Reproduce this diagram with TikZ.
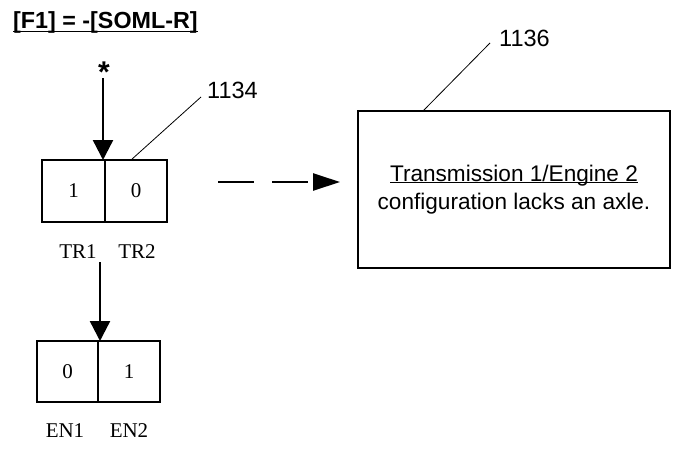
\documentclass[tikz,border=0pt]{standalone}
\usepackage{fontspec}
\setmainfont{Liberation Serif}
\setsansfont{Liberation Sans}
\usetikzlibrary{arrows.meta}
\newcommand\ulbox[2]{\setbox0\hbox{#2}\rlap{\rule[-#1]{\wd0}{1.3pt}}\box0}
\begin{document}
\begin{tikzpicture}[x=1pt,y=-1pt,
  cell/.style={draw,line width=1.8pt,inner sep=0pt,outer sep=0pt,minimum height=62pt,
    font=\fontsize{21}{24}\selectfont},
  sublbl/.style={font=\fontsize{21}{24}\selectfont,inner sep=0pt},
  reflbl/.style={font=\sffamily\fontsize{23.5}{26}\selectfont,inner sep=0pt,anchor=west},
  leader/.style={line width=0.8pt},
  mainarrow/.style={line width=2.4pt,-{Triangle[width=20pt,length=20pt]}},
  dasharrow/.style={line width=2.8pt,dash pattern=on 36pt off 18pt,
    -{Triangle[width=17pt,length=27pt]}},
  msgbox/.style={draw,line width=1.8pt,outer sep=0pt,minimum width=312pt,minimum height=157pt,
    inner sep=0pt,align=center,font=\sffamily\fontsize{22.6}{28}\selectfont}]
\useasboundingbox (0,0) rectangle (677,452);

% title
\node[anchor=west,inner sep=0pt,font=\sffamily\bfseries\fontsize{23.3}{26}\selectfont]
  (title) at (13,22) {\ulbox{4pt}{[F1] = -[SOML-R]}};

% star
\node[inner sep=0pt,font=\sffamily\bfseries\fontsize{30}{30}\selectfont] (star) at (104,72) {*};

% TR boxes
\node[cell,minimum width=63pt,anchor=north west] (tr1) at (42,160) {1};
\node[cell,minimum width=62pt,anchor=north west] (tr2) at (tr1.north east) {0};
\node[sublbl] (tr1l) at (78,252) {TR1};
\node[sublbl] (tr2l) at (137,252) {TR2};

% EN boxes
\node[cell,minimum width=61pt,anchor=north west,minimum height=61pt] (en1) at (37,341) {0};
\node[cell,minimum width=62pt,anchor=north west,minimum height=61pt] (en2) at (en1.north east) {1};
\node[sublbl] (en1l) at (65,431) {EN1};
\node[sublbl] (en2l) at (129,431) {EN2};

% message box
\node[msgbox] (msg) at (514,189.5)
  {\ulbox{2pt}{Transmission 1/Engine 2}\\configuration lacks an axle.};

% reference labels
\node[reflbl] (r1134) at (207,90) {1134};
\node[reflbl] (r1136) at (499,38) {1136};
\coordinate (l1134a) at (131,160);
\coordinate (l1134b) at (201,97);
\coordinate (l1136a) at (423,111);
\coordinate (l1136b) at (490,43);
\draw[leader] (l1134a) -- (l1134b);
\draw[leader] (l1136a) -- (l1136b);

% arrows
\coordinate (s1) at (103,78);
\draw[mainarrow] (s1) -- (s1 |- tr1.north);
\coordinate (s2) at (100,262);
\draw[mainarrow] (s2) -- (s2 |- en1.north);
\coordinate (ds) at (218,182);
\draw[dasharrow,shorten >=18pt] (ds) -- (ds -| msg.west);
\end{tikzpicture}
\end{document}
